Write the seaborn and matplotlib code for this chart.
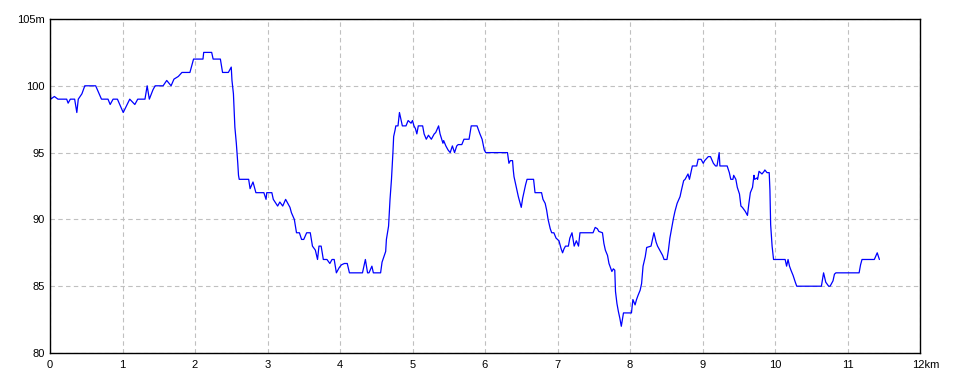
import matplotlib
matplotlib.use("Agg")
import matplotlib.pyplot as plt
import matplotlib.transforms as mtransforms
import seaborn as sns
import pandas as pd

distance_km = [
    0.00, 0.01, 0.06, 0.11, 0.23, 0.25, 0.28, 0.34, 0.37, 0.39, 0.44, 0.48, 0.63, 0.71, 0.80, 0.83,
    0.87, 0.93, 1.01, 1.10, 1.17, 1.21, 1.31, 1.34, 1.37, 1.42, 1.45, 1.56, 1.61, 1.67, 1.71, 1.77,
    1.82, 1.93, 1.98, 2.11, 2.12, 2.23, 2.25, 2.35, 2.38, 2.46, 2.50, 2.51, 2.53, 2.54, 2.55, 2.57,
    2.59, 2.60, 2.61, 2.74, 2.76, 2.80, 2.84, 2.95, 2.98, 2.99, 3.06, 3.08, 3.14, 3.17, 3.21, 3.25,
    3.31, 3.33, 3.37, 3.40, 3.44, 3.47, 3.50, 3.54, 3.59, 3.62, 3.66, 3.69, 3.71, 3.74, 3.77, 3.82,
    3.86, 3.89, 3.92, 3.95, 3.99, 4.02, 4.06, 4.10, 4.13, 4.31, 4.35, 4.38, 4.40, 4.44, 4.46, 4.56,
    4.58, 4.63, 4.64, 4.67, 4.69, 4.71, 4.73, 4.74, 4.76, 4.77, 4.80, 4.82, 4.84, 4.86, 4.91, 4.94,
    4.98, 5.00, 5.02, 5.04, 5.06, 5.08, 5.14, 5.16, 5.19, 5.22, 5.26, 5.30, 5.32, 5.36, 5.38, 5.42,
    5.43, 5.46, 5.49, 5.52, 5.55, 5.58, 5.61, 5.63, 5.68, 5.71, 5.78, 5.81, 5.89, 5.93, 5.96, 5.99,
    6.01, 6.31, 6.33, 6.35, 6.38, 6.39, 6.40, 6.42, 6.44, 6.46, 6.48, 6.50, 6.52, 6.54, 6.56, 6.58,
    6.67, 6.69, 6.78, 6.80, 6.83, 6.85, 6.87, 6.90, 6.92, 6.95, 6.98, 7.02, 7.05, 7.07, 7.09, 7.11,
    7.15, 7.17, 7.20, 7.23, 7.26, 7.29, 7.31, 7.49, 7.52, 7.55, 7.57, 7.62, 7.64, 7.66, 7.69, 7.71,
    7.75, 7.77, 7.79, 7.80, 7.82, 7.84, 7.86, 7.88, 7.91, 8.02, 8.04, 8.07, 8.09, 8.11, 8.14, 8.16,
    8.18, 8.21, 8.23, 8.29, 8.31, 8.33, 8.36, 8.38, 8.41, 8.45, 8.47, 8.51, 8.53, 8.55, 8.58, 8.60,
    8.62, 8.65, 8.69, 8.71, 8.74, 8.76, 8.78, 8.80, 8.82, 8.84, 8.86, 8.92, 8.94, 8.98, 9.01, 9.03,
    9.08, 9.11, 9.15, 9.18, 9.20, 9.23, 9.24, 9.34, 9.37, 9.39, 9.42, 9.43, 9.46, 9.48, 9.51, 9.53,
    9.55, 9.59, 9.62, 9.64, 9.66, 9.69, 9.71, 9.72, 9.75, 9.76, 9.78, 9.80, 9.82, 9.85, 9.86, 9.89,
    9.92, 9.93, 9.94, 9.96, 9.98, 10.14, 10.16, 10.18, 10.20, 10.22, 10.25, 10.28, 10.30, 10.64, 10.67, 10.70,
    10.74, 10.76, 10.80, 10.82, 10.84, 11.16, 11.18, 11.20, 11.37, 11.41, 11.44,
]

elevation_m = [
    100.0, 99.0, 99.2, 99.0, 99.0, 98.7, 99.0, 99.0, 98.0, 99.0, 99.4, 100.0, 100.0, 99.0, 99.0, 98.6,
    99.0, 99.0, 98.0, 99.0, 98.6, 99.0, 99.0, 100.0, 99.0, 99.7, 100.0, 100.0, 100.4, 100.0, 100.5, 100.7,
    101.0, 101.0, 102.0, 102.0, 102.5, 102.5, 102.0, 102.0, 101.0, 101.0, 101.4, 100.4, 99.4, 98.2, 96.9, 95.7,
    94.2, 93.3, 93.0, 93.0, 92.3, 92.8, 92.0, 92.0, 91.5, 92.0, 92.0, 91.5, 91.0, 91.3, 91.0, 91.5,
    90.9, 90.5, 90.0, 89.0, 89.0, 88.5, 88.5, 89.0, 89.0, 88.0, 87.7, 87.0, 88.0, 88.0, 87.0, 87.0,
    86.7, 87.0, 87.0, 86.0, 86.4, 86.6, 86.7, 86.7, 86.0, 86.0, 87.0, 86.0, 86.0, 86.5, 86.0, 86.0,
    86.8, 87.6, 88.5, 89.5, 91.5, 93.0, 95.0, 96.2, 96.7, 97.0, 97.0, 98.0, 97.5, 97.0, 97.0, 97.4,
    97.2, 97.4, 97.0, 96.8, 96.4, 97.0, 97.0, 96.4, 96.0, 96.3, 96.0, 96.4, 96.5, 97.0, 96.4, 95.7,
    95.9, 95.5, 95.2, 95.0, 95.5, 95.0, 95.5, 95.6, 95.6, 96.0, 96.0, 97.0, 97.0, 96.4, 96.0, 95.2,
    95.0, 95.0, 94.2, 94.4, 94.4, 93.7, 93.2, 92.7, 92.2, 91.7, 91.3, 90.9, 91.6, 92.1, 92.6, 93.0,
    93.0, 92.0, 92.0, 91.5, 91.2, 90.7, 90.0, 89.3, 89.0, 89.0, 88.6, 88.4, 87.8, 87.5, 87.8, 88.0,
    88.0, 88.6, 89.0, 88.0, 88.4, 88.0, 89.0, 89.0, 89.4, 89.3, 89.1, 89.0, 88.2, 87.7, 87.3, 86.7,
    86.1, 86.3, 86.2, 84.6, 83.7, 83.1, 82.6, 82.0, 83.0, 83.0, 84.0, 83.6, 84.0, 84.3, 84.7, 85.2,
    86.5, 87.2, 87.9, 88.0, 88.5, 89.0, 88.3, 88.0, 87.7, 87.3, 87.0, 87.0, 87.7, 88.6, 89.5, 90.1,
    90.6, 91.2, 91.7, 92.2, 92.9, 93.0, 93.2, 93.4, 93.0, 93.5, 94.0, 94.0, 94.5, 94.5, 94.2, 94.4,
    94.7, 94.7, 94.2, 94.0, 94.0, 95.0, 94.0, 94.0, 93.5, 93.0, 93.0, 93.3, 93.0, 92.4, 91.9, 91.0,
    90.9, 90.6, 90.3, 91.2, 92.0, 92.4, 93.3, 93.0, 93.1, 93.0, 93.6, 93.5, 93.4, 93.6, 93.7, 93.5,
    93.5, 92.2, 89.6, 88.0, 87.0, 87.0, 86.5, 87.0, 86.5, 86.2, 85.8, 85.3, 85.0, 85.0, 86.0, 85.3,
    85.0, 85.0, 85.4, 85.9, 86.0, 86.0, 86.6, 87.0, 87.0, 87.5, 87.0,
]

x_ticks = [0, 1, 2, 3, 4, 5, 6, 7, 8, 9, 10, 11, 12]
x_tick_labels = ["0", "1", "2", "3", "4", "5", "6", "7", "8", "9", "10", "11", "12km"]
y_ticks = [80, 85, 90, 95, 100, 105]
y_tick_labels = ["80", "85", "90", "95", "100", "105m"]

df = pd.DataFrame({"distance": distance_km, "elevation": elevation_m})

sns.set_style("white")
plt.rcParams["font.family"] = ["Liberation Sans", "DejaVu Sans"]

fig = plt.figure(figsize=(9.6, 3.84), dpi=100)
ax = fig.add_axes([50 / 960, 31 / 384, 870 / 960, 334 / 384])

sns.lineplot(data=df, x="distance", y="elevation", ax=ax, color="#0000ff",
             linewidth=0.9, estimator=None, sort=False)

ax.set_xlim(0, 12)
ax.set_ylim(80, 105)
ax.set_xticks(x_ticks)
ax.set_xticklabels(x_tick_labels)
ax.set_yticks(y_ticks)
ax.set_yticklabels(y_tick_labels)
ax.set_xlabel("")
ax.set_ylabel("")

ax.grid(True, which="major", color="#c0c0c0", linestyle=(0, (4, 3)), linewidth=0.8)
ax.set_axisbelow(True)
for side, sp in ax.spines.items():
    sp.set_visible(True)
    sp.set_color("black")
    sp.set_linewidth(1.0)

ax.tick_params(axis="both", length=0, labelsize=8, colors="black")
ax.tick_params(axis="x", pad=5)
ax.tick_params(axis="y", pad=4)

labels = ax.get_xticklabels()
labels[-1].set_horizontalalignment("left")
offset = mtransforms.ScaledTranslation(-8 / 100, 0, fig.dpi_scale_trans)
labels[-1].set_transform(labels[-1].get_transform() + offset)

fig.savefig("out.png", dpi=100, facecolor="white")
